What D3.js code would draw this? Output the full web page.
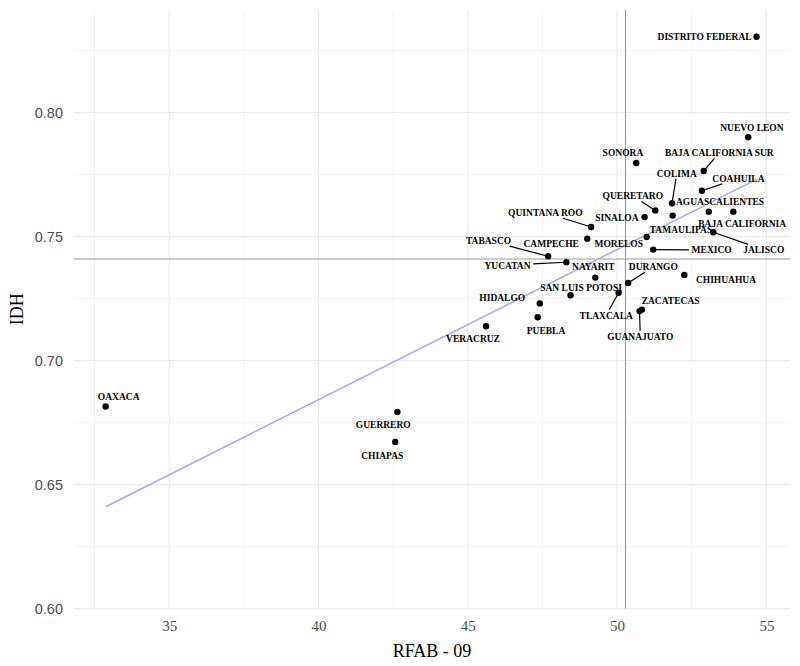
<!DOCTYPE html>
<html><head><meta charset="utf-8">
<script src="https://cdn.jsdelivr.net/npm/d3@7"></script>
<style>body{margin:0;background:#fff}svg{display:block}</style>
</head><body><svg id="chart" width="800" height="666"></svg>
<script>
// ---- data ----
const states = ["DISTRITO FEDERAL","NUEVO LEON","SONORA","BAJA CALIFORNIA SUR","COAHUILA","COLIMA","QUERETARO","TAMAULIPAS","AGUASCALIENTES","BAJA CALIFORNIA","SINALOA","QUINTANA ROO","CAMPECHE","MORELOS","JALISCO","MEXICO","TABASCO","YUCATAN","NAYARIT","DURANGO","SAN LUIS POTOSI","TLAXCALA","HIDALGO","PUEBLA","ZACATECAS","GUANAJUATO","VERACRUZ","CHIHUAHUA","GUERRERO","CHIAPAS","OAXACA"];
const rfab = [54.67,54.39,50.64,52.90,52.84,51.84,51.28,51.86,53.07,53.89,50.92,49.13,49.00,50.99,53.22,51.21,47.69,48.30,49.27,50.37,48.44,50.05,47.41,47.34,50.83,50.75,45.61,52.25,42.64,42.57,32.87];
const idh = [0.8306,0.7901,0.7797,0.7765,0.7685,0.7635,0.7606,0.7585,0.7601,0.7601,0.7579,0.7539,0.7492,0.7499,0.7518,0.7448,0.7421,0.7397,0.7335,0.7313,0.7264,0.7274,0.7231,0.7175,0.7206,0.7200,0.7139,0.7346,0.6793,0.6672,0.6815];
const xTicks = [35,40,45,50,55];
const xMinor = [32.5,37.5,42.5,47.5,52.5];
const yTicks = [0.60,0.65,0.70,0.75,0.80];
const yMinor = [0.625,0.675,0.725,0.775,0.825];
const refX = 50.28, refY = 0.741;
const fitX = [32.87, 54.67];
const fitY = [0.6411, 0.7731];
const xTitle = "RFAB - 09", yTitle = "IDH";

// ---- label layout (pixel offsets from point, repel-like) ----
const labelOffset = {
 "DISTRITO FEDERAL":[-52,0],"NUEVO LEON":[3.7,-9.3],"SONORA":[-13.3,-10],"BAJA CALIFORNIA SUR":[15.6,-18],
 "COAHUILA":[36.5,-12.4],"COLIMA":[4.7,-30],"QUERETARO":[-22.5,-14.3],"TAMAULIPAS":[8.3,13.6],
 "AGUASCALIENTES":[11.3,-10],"BAJA CALIFORNIA":[8.9,11.6],"SINALOA":[-27.7,0.3],"QUINTANA ROO":[-45.8,-14.3],
 "CAMPECHE":[-36.1,4.6],"MORELOS":[-27.9,7],"JALISCO":[50.5,17.7],"MEXICO":[58.4,0.5],"TABASCO":[-59.6,-15.6],
 "YUCATAN":[-58.8,3],"NAYARIT":[-2,-11],"DURANGO":[25.2,-16.3],"SAN LUIS POTOSI":[10.5,-7.6],"TLAXCALA":[-12.4,22.6],
 "HIDALGO":[-37.5,-5.6],"PUEBLA":[8.3,13],"ZACATECAS":[28.7,-8.5],"GUANAJUATO":[0.8,25.3],"VERACRUZ":[-13,12.7],
 "CHIHUAHUA":[41.7,5],"GUERRERO":[-14.1,12.3],"CHIAPAS":[-13,13.3],"OAXACA":[13,-9.4]
};
const withSegment = new Set(["BAJA CALIFORNIA SUR","COAHUILA","COLIMA","QUERETARO","QUINTANA ROO","JALISCO","MEXICO","TABASCO","YUCATAN","DURANGO","TLAXCALA","GUANAJUATO"]);

const data = states.map((s,i)=>({name:s,x:rfab[i],y:idh[i]}));

const L=74,R=790,T=10,B=608.7;
const x = d3.scaleLinear().domain([31.81,55.79]).range([L,R]);
const y = d3.scaleLinear().domain([0.6,0.8414]).range([B,T]);
const svg = d3.select("#chart");

// grid
const g = svg.append("g");
g.selectAll(".xm").data(xMinor).join("line").attr("x1",d=>x(d)).attr("x2",d=>x(d)).attr("y1",T).attr("y2",B).attr("stroke","#ebebeb").attr("stroke-width",0.6);
g.selectAll(".ym").data(yMinor).join("line").attr("y1",d=>y(d)).attr("y2",d=>y(d)).attr("x1",L).attr("x2",R).attr("stroke","#ebebeb").attr("stroke-width",0.6);
g.selectAll(".xM").data(xTicks).join("line").attr("x1",d=>x(d)).attr("x2",d=>x(d)).attr("y1",T).attr("y2",B).attr("stroke","#ebebeb").attr("stroke-width",1.2);
g.selectAll(".yM").data(yTicks).join("line").attr("y1",d=>y(d)).attr("y2",d=>y(d)).attr("x1",L).attr("x2",R).attr("stroke","#ebebeb").attr("stroke-width",1.2);

// axes
const xAxis = d3.axisBottom(x).tickValues(xTicks).tickSize(0).tickPadding(12).tickFormat(d3.format("d"));
const xa = svg.append("g").attr("transform",`translate(0,${B})`).call(xAxis);
xa.select(".domain").remove();
xa.selectAll("text").attr("fill","#4d4d4d").style("font-family","Liberation Serif, serif").style("font-size","15px");
const yAxis = d3.axisLeft(y).tickValues(yTicks).tickSize(0).tickPadding(11).tickFormat(d3.format(".2f"));
const ya = svg.append("g").attr("transform",`translate(${L},0)`).call(yAxis);
ya.select(".domain").remove();
ya.selectAll("text").attr("fill","#4d4d4d").style("font-family","Liberation Sans, sans-serif").style("font-size","14.5px");

svg.append("text").attr("x",(L+R)/2).attr("y",657).attr("text-anchor","middle").style("font-family","Liberation Serif, serif").style("font-size","18px").attr("fill","#000").text(xTitle);
svg.append("text").attr("transform",`translate(23,${(T+B)/2}) rotate(-90)`).attr("text-anchor","middle").style("font-family","Liberation Serif, serif").style("font-size","18px").attr("fill","#000").text(yTitle);

// reference lines
svg.append("line").attr("x1",x(refX)).attr("x2",x(refX)).attr("y1",T).attr("y2",B).attr("stroke","#9a9a9a").attr("stroke-width",1.1);
svg.append("line").attr("x1",L).attr("x2",R).attr("y1",y(refY)).attr("y2",y(refY)).attr("stroke","#9a9a9a").attr("stroke-width",1.1);

// fit line
const fit = fitX.map((v,i)=>[v,fitY[i]]);
svg.append("path").datum(fit).attr("d",d3.line().x(d=>x(d[0])).y(d=>y(d[1]))).attr("stroke","#a8a8ff").attr("stroke-width",1.6).attr("fill","none");

// labels + segments
const lg = svg.append("g");
const sg = svg.append("g");
data.forEach(d=>{
  const px=x(d.x), py=y(d.y);
  const o=labelOffset[d.name];
  const cx=px+o[0], cy=py+o[1];
  const t=lg.append("text").attr("x",cx).attr("y",cy).attr("dy","0.35em").attr("text-anchor","middle")
    .style("font-family","Liberation Serif, serif").style("font-weight","bold").style("font-size","9.5px").attr("fill","#000").text(d.name);
  if(withSegment.has(d.name)){
    const bb=t.node().getBBox();
    const hw=bb.width/2+2.5, hh=bb.height/2+0.5;
    const ddx=px-cx, ddy=py-cy;
    const tt=Math.min(Math.abs(ddx)>1e-6?hw/Math.abs(ddx):Infinity, Math.abs(ddy)>1e-6?hh/Math.abs(ddy):Infinity);
    sg.append("line").attr("x1",px).attr("y1",py).attr("x2",cx+tt*ddx).attr("y2",cy+tt*ddy).attr("stroke","#000").attr("stroke-width",1.2);
  }
});

// points
svg.append("g").selectAll("circle").data(data).join("circle")
  .attr("cx",d=>x(d.x)).attr("cy",d=>y(d.y)).attr("r",3.2).attr("fill","#000");
</script></body></html>
